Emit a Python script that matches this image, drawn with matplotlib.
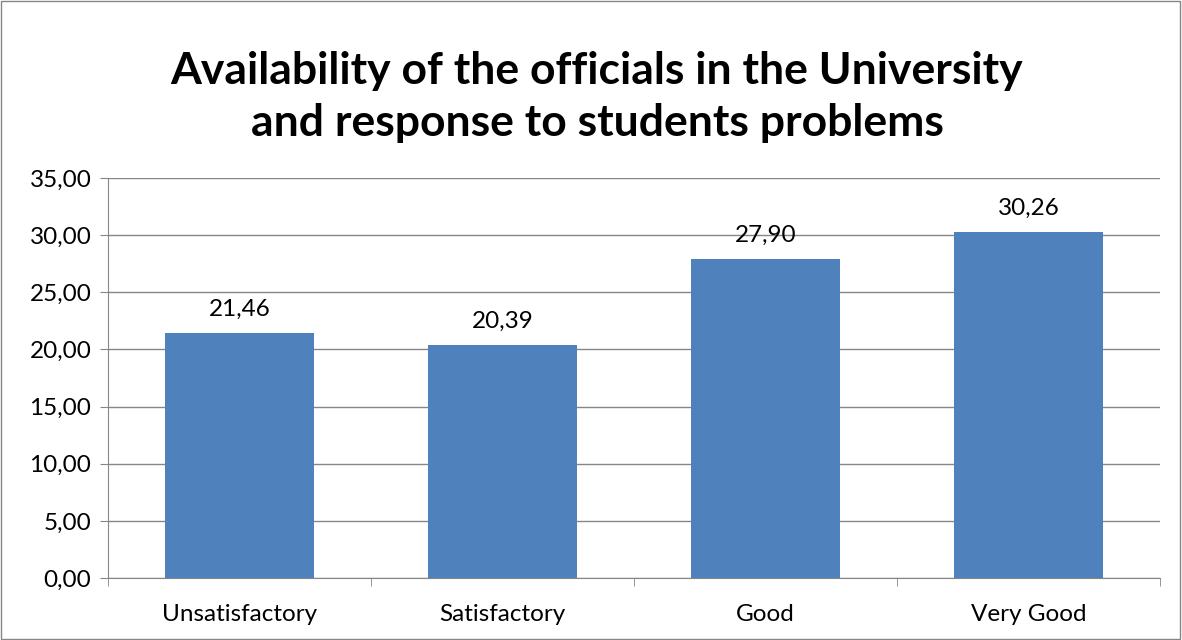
import matplotlib
matplotlib.use('Agg')
from matplotlib import pyplot as plt
from matplotlib.ticker import MultipleLocator, FuncFormatter
from matplotlib.patches import Rectangle

# Data
categories = ['Unsatisfactory', 'Satisfactory', 'Good', 'Very Good']
values = [21.46, 20.39, 27.90, 30.26]

plt.rcParams['font.family'] = ['Lato', 'DejaVu Sans']

fig = plt.figure(figsize=(11.82, 6.4), dpi=100)
ax = fig.add_axes([108 / 1182, 1 - 578 / 640, 1052 / 1182, 400 / 640])

x = range(len(categories))
bars = ax.bar(x, values, width=0.57, color='#4F81BD', zorder=3)

for xi, v in zip(x, values):
    ax.text(xi, v + 1.15, f'{v:.2f}'.replace('.', ','), ha='center', va='bottom', fontsize=17.5)

ax.set_xlim(-0.5, len(categories) - 0.5)
ax.set_ylim(0, 35)
ax.yaxis.set_major_locator(MultipleLocator(5))
ax.yaxis.set_major_formatter(FuncFormatter(lambda v, p: f'{v:.2f}'.replace('.', ',')))
ax.grid(axis='y', color='#868686', linewidth=1, zorder=0)

ax.set_xticks(list(x))
ax.set_xticklabels(categories, fontsize=17.5)
ax.tick_params(axis='x', length=0, pad=19)
ax.set_xticks([i + 0.5 for i in range(-1, len(categories))], minor=True)
ax.tick_params(axis='x', which='minor', length=6, color='#868686')
ax.tick_params(axis='y', labelsize=17.5, length=6, color='#868686', pad=6)

for side in ['top', 'right']:
    ax.spines[side].set_visible(False)
for side in ['left', 'bottom']:
    ax.spines[side].set_color('#868686')

fig.text(597 / 1182, 1 - 97 / 640, 'Availability of the officials in the University\nand response to students problems',
         ha='center', va='center', fontsize=32, fontweight='bold', linespacing=1.38)

fig.patches.append(Rectangle((0.001, 0.001), 0.997, 0.997, transform=fig.transFigure,
                             fill=False, edgecolor='#868686', linewidth=1))

fig.savefig('out.png', dpi=100)
